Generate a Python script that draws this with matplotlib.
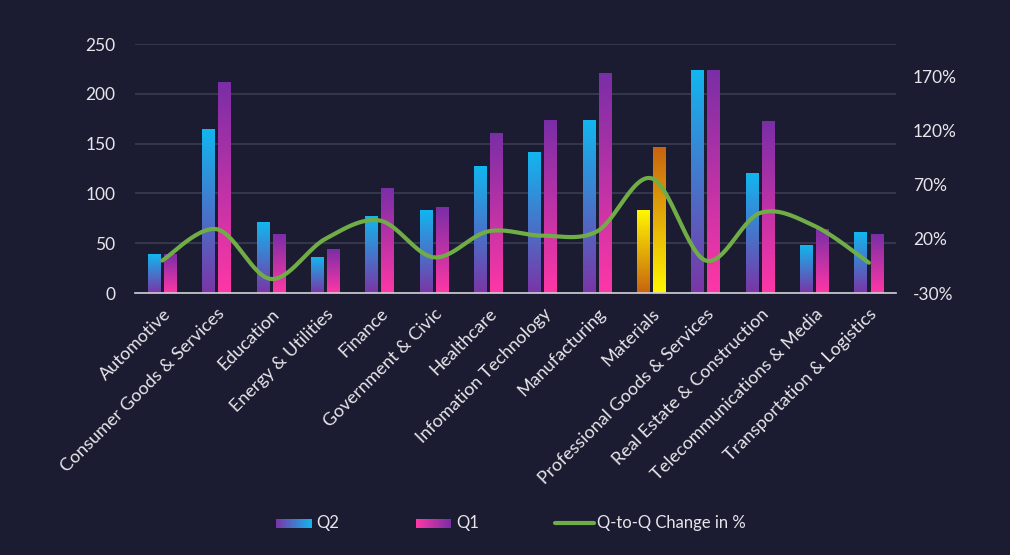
import numpy as np
import matplotlib
matplotlib.use("Agg")
from matplotlib import pyplot as plt
from matplotlib.colors import LinearSegmentedColormap

categories = ["Automotive", "Consumer Goods & Services", "Education", "Energy & Utilities",
              "Finance", "Government & Civic", "Healthcare", "Infomation Technology",
              "Manufacturing", "Materials", "Professional Goods & Services",
              "Real Estate & Construction", "Telecommunications & Media",
              "Transportation & Logistics"]
q2 = [39, 164, 71, 36, 77, 83, 127, 141, 173, 83, 223, 120, 48, 61]
q1 = [39, 211, 59, 44, 105, 86, 160, 173, 220, 146, 223, 172, 64, 59]
change_pct = [0, 29, -17, 20, 37, 3, 27, 23, 27, 76, 0, 44, 32, -2]
highlight = "Materials"

bg = "#1b1c31"
txt = "#e6e6ea"
grid_c = "#3a3c52"
green = "#70ad47"

q2_cmap = LinearSegmentedColormap.from_list("q2", ["#7a35a6", "#12b6ef"])   # bottom -> top
q1_cmap = LinearSegmentedColormap.from_list("q1", ["#ff37a6", "#7a2ea6"])
hq2_cmap = LinearSegmentedColormap.from_list("hq2", ["#c8630f", "#fff700"])
hq1_cmap = LinearSegmentedColormap.from_list("hq1", ["#fff700", "#c8630f"])

plt.rcParams["font.family"] = ["Lato", "DejaVu Sans"]

fig = plt.figure(figsize=(10.1, 5.55), dpi=100, facecolor=bg)
ax = fig.add_axes([0.1337, 0.472, 0.7535, 0.4486], facecolor=bg)

x = np.arange(len(categories))
w = 0.235
off = 0.148
grad = np.linspace(0, 1, 256).reshape(-1, 1)

def grad_bars(xs, vals, cmaps):
    bars = ax.bar(xs, vals, w, color="none", edgecolor="none", zorder=2)
    for b, cm in zip(bars, cmaps):
        x0, y0 = b.get_x(), b.get_y()
        ax.imshow(grad, cmap=cm, origin="lower", aspect="auto", zorder=2,
                  extent=[x0, x0 + b.get_width(), y0, y0 + b.get_height()])
    return bars

c2 = [hq2_cmap if c == highlight else q2_cmap for c in categories]
c1 = [hq1_cmap if c == highlight else q1_cmap for c in categories]
grad_bars(x - off, q2, c2)
grad_bars(x + off, q1, c1)

ax.set_xlim(-0.5, len(categories) - 0.5)
ax.set_ylim(0, 250)
ax.set_yticks(range(0, 251, 50))
ax.yaxis.grid(True, color=grid_c, lw=1.2, zorder=0)
ax.set_axisbelow(True)
for s in ["top", "right", "left"]:
    ax.spines[s].set_visible(False)
ax.spines["bottom"].set_color("#d0d0d6")
ax.spines["bottom"].set_linewidth(1.2)
ax.tick_params(axis="y", length=0, pad=14, labelcolor=txt, labelsize=12.5)
ax.tick_params(axis="x", length=0, pad=9, labelcolor=txt, labelsize=13)
ax.set_xticks(x)
ax.set_xticklabels(categories, rotation=45, ha="right", rotation_mode="anchor")

# smoothed change line (Catmull-Rom)
ax2 = ax.twinx()
ax2.set_ylim(-30, 200)
ax2.set_yticks([-30, 20, 70, 120, 170])
ax2.set_yticklabels([f"{v}%" for v in [-30, 20, 70, 120, 170]])
ax2.tick_params(axis="y", length=0, pad=12, labelcolor=txt, labelsize=12.5)
for s in ax2.spines.values():
    s.set_visible(False)

px = np.array(x, dtype=float)
py = np.array(change_pct, dtype=float)
P = np.column_stack([px, py])
P = np.vstack([P[0], P, P[-1]])
sx, sy = [], []
for i in range(1, len(P) - 2):
    p0, p1, p2, p3 = P[i - 1], P[i], P[i + 1], P[i + 2]
    t = np.linspace(0, 1, 30)[:, None]
    pts = 0.5 * ((2 * p1) + (-p0 + p2) * t + (2 * p0 - 5 * p1 + 4 * p2 - p3) * t ** 2
                 + (-p0 + 3 * p1 - 3 * p2 + p3) * t ** 3)
    sx.extend(pts[:, 0]); sy.extend(pts[:, 1])
ax2.plot(sx, sy, color=green, lw=3, solid_capstyle="round", zorder=5)

# legend
ly = 0.057
lgx = np.linspace(0, 1, 256).reshape(1, -1)
for xpos, cm, label in [(276, LinearSegmentedColormap.from_list("l2", ["#7a35a6", "#12b6ef"]), "Q2"),
                        (416, LinearSegmentedColormap.from_list("l1", ["#ff37a6", "#7a2ea6"]), "Q1")]:
    la = fig.add_axes([xpos / 1010, ly - 0.008, 35 / 1010, 0.016])
    la.imshow(lgx, cmap=cm, aspect="auto")
    la.axis("off")
    fig.text((xpos + 40) / 1010, ly, label, color=txt, fontsize=12, va="center")
fig.add_artist(plt.Line2D([555 / 1010, 594 / 1010], [ly, ly], color=green, lw=3,
                          solid_capstyle="round", transform=fig.transFigure))
fig.text(597 / 1010, ly, "Q-to-Q Change in %", color=txt, fontsize=12, va="center")

fig.savefig("out.png", dpi=100, facecolor=bg)
